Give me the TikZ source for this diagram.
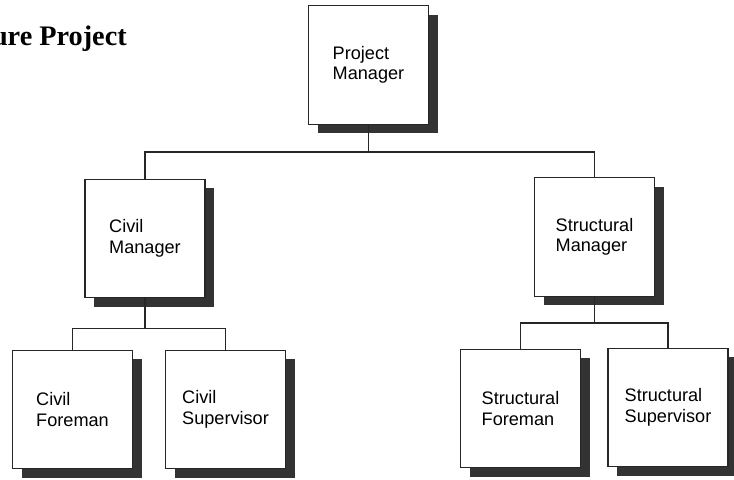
\documentclass[tikz,border=0pt]{standalone}
\usepackage{fontspec}
\setmainfont{Liberation Sans}
\newfontfamily\titlefont{Liberation Serif}
\usetikzlibrary{shadows}
\tikzset{
  post/.style  = {draw=black!85, line width=0.9pt, fill=white, rectangle,
                  minimum width=90pt, minimum height=89pt, align=left,
                  font=\fontsize{13.6}{15.4}\selectfont,
                  drop shadow={shadow xshift=6.75pt, shadow yshift=-6.75pt,
                               fill=black!80, opacity=1}},
  link/.style  = {draw=black!85, line width=0.9pt},
}

\begin{document}
\begin{tikzpicture}[x=0.75pt,y=-0.75pt]
\clip (0,0) rectangle (734,479);
\node[anchor=base east,inner sep=0pt,font=\titlefont\bfseries\fontsize{21.2}{24}\selectfont] (title) at (127,45) {ure Project};
% top level
\node[post] (pm) at (368.5,65) {Project\\Manager};
% managers
\node[post] (cm) at (145,238.5) {Civil\\Manager};
\node[post] (sm) at (594.5,237) {Structural\\Manager};
% site staff
\node[post] (cf) at (72.5,409.5) {Civil\\Foreman};
\node[post] (cs) at (225.5,409.5) {Civil\\Supervisor};
\node[post] (sf) at (520.5,408.5) {Structural\\Foreman};
\node[post] (ss) at (668,407.5) {Structural\\Supervisor};
% connectors
\draw[link] (pm.south) -- ++(0,27) -| (cm.north);
\draw[link] (pm.south) -- ++(0,27) -| (sm.north);
\draw[link] (cm.south) -- ++(0,30) -| (cf.north);
\draw[link] (cm.south) -- ++(0,30) -| (cs.north);
\draw[link] (sm.south) -- ++(0,26) -| (sf.north);
\draw[link] (sm.south) -- ++(0,26) -| (ss.north);
\end{tikzpicture}
\end{document}
